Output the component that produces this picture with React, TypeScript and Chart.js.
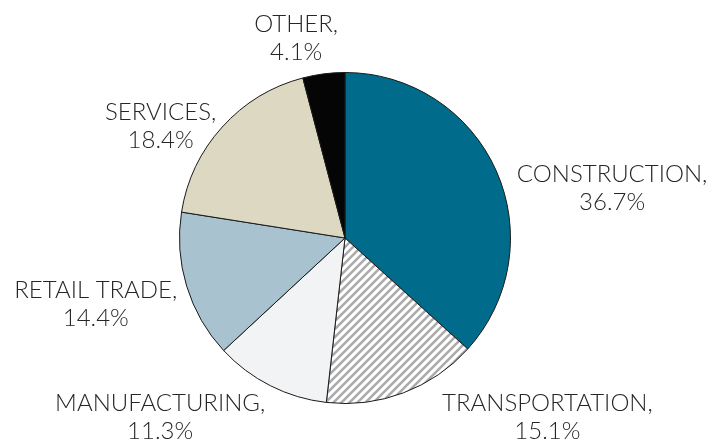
import React, { useEffect, useRef } from "react";
import { Chart, registerables } from "chart.js";

Chart.register(...registerables);

const categories = ["CONSTRUCTION", "TRANSPORTATION", "MANUFACTURING", "RETAIL TRADE", "SERVICES", "OTHER"];
const shares = [36.7, 15.1, 11.3, 14.4, 18.4, 4.1];
const sliceColors = ["#006B8A", "HATCH", "#F1F3F5", "#A9C2CF", "#DCD8C2", "#050505"];
// label block centres, in units of the pie radius from the pie centre
const labelPlacement: [number, number][] = [
  [1.614, -0.301],
  [1.223, 1.084],
  [-1.117, 1.084],
  [-1.506, 0.398],
  [-1.114, -0.678],
  [-0.295, -1.208],
];

function makeHatch(): CanvasPattern | string {
  const s = 8;
  const c = document.createElement("canvas");
  c.width = s;
  c.height = s;
  const g = c.getContext("2d");
  if (!g) return "#cccccc";
  g.fillStyle = "#ffffff";
  g.fillRect(0, 0, s, s);
  g.strokeStyle = "#ababab";
  g.lineWidth = 2.6;
  g.beginPath();
  g.moveTo(-1, s + 1);
  g.lineTo(s + 1, -1);
  g.moveTo(-1, 1);
  g.lineTo(1, -1);
  g.moveTo(s - 1, s + 1);
  g.lineTo(s + 1, s - 1);
  g.stroke();
  const p = g.createPattern(c, "repeat");
  return p || "#cccccc";
}

const FONT = "300 24px Lato, 'Open Sans', sans-serif";

const labelPlugin = {
  id: "outsideLabels",
  afterDatasetsDraw(chart: any) {
    const meta = chart.getDatasetMeta(0);
    const ctx = chart.ctx;
    ctx.save();
    ctx.font = FONT;
    ctx.fillStyle = "#262626";
    ctx.textAlign = "center";
    ctx.textBaseline = "middle";
    const lineH = 28;
    meta.data.forEach((arc: any, i: number) => {
      const { x, y, outerRadius } = arc.getProps(["x", "y", "outerRadius"], true);
      const [fx, fy] = labelPlacement[i];
      const cx = x + fx * outerRadius;
      const cy = y + fy * outerRadius;
      ctx.fillText(categories[i] + ",", cx, cy - lineH / 2);
      ctx.fillText(shares[i].toFixed(1) + "%", cx, cy + lineH / 2);
    });
    ctx.restore();
  },
};

export default function App() {
  const ref = useRef<HTMLCanvasElement | null>(null);
  useEffect(() => {
    document.body.style.margin = "0";
    if (!ref.current) return;
    const hatch = makeHatch();
    const chart = new Chart(ref.current, {
      type: "pie",
      data: {
        labels: categories,
        datasets: [
          {
            data: shares,
            backgroundColor: sliceColors.map((c) => (c === "HATCH" ? hatch : c)) as any,
            borderColor: "#1a1a1a",
            borderWidth: 1,
          },
        ],
      },
      options: {
        responsive: false,
        animation: false,
        layout: { padding: { left: 179, right: 201, top: 72, bottom: 36 } },
        plugins: {
          legend: { display: false },
          tooltip: { enabled: false },
        },
      },
      plugins: [labelPlugin],
    });
    return () => chart.destroy();
  }, []);
  return (
    <div style={{ position: "absolute", left: 0, top: 0, width: 712, height: 440, background: "#fff" }}>
      <canvas ref={ref} width={712} height={440} />
    </div>
  );
}
